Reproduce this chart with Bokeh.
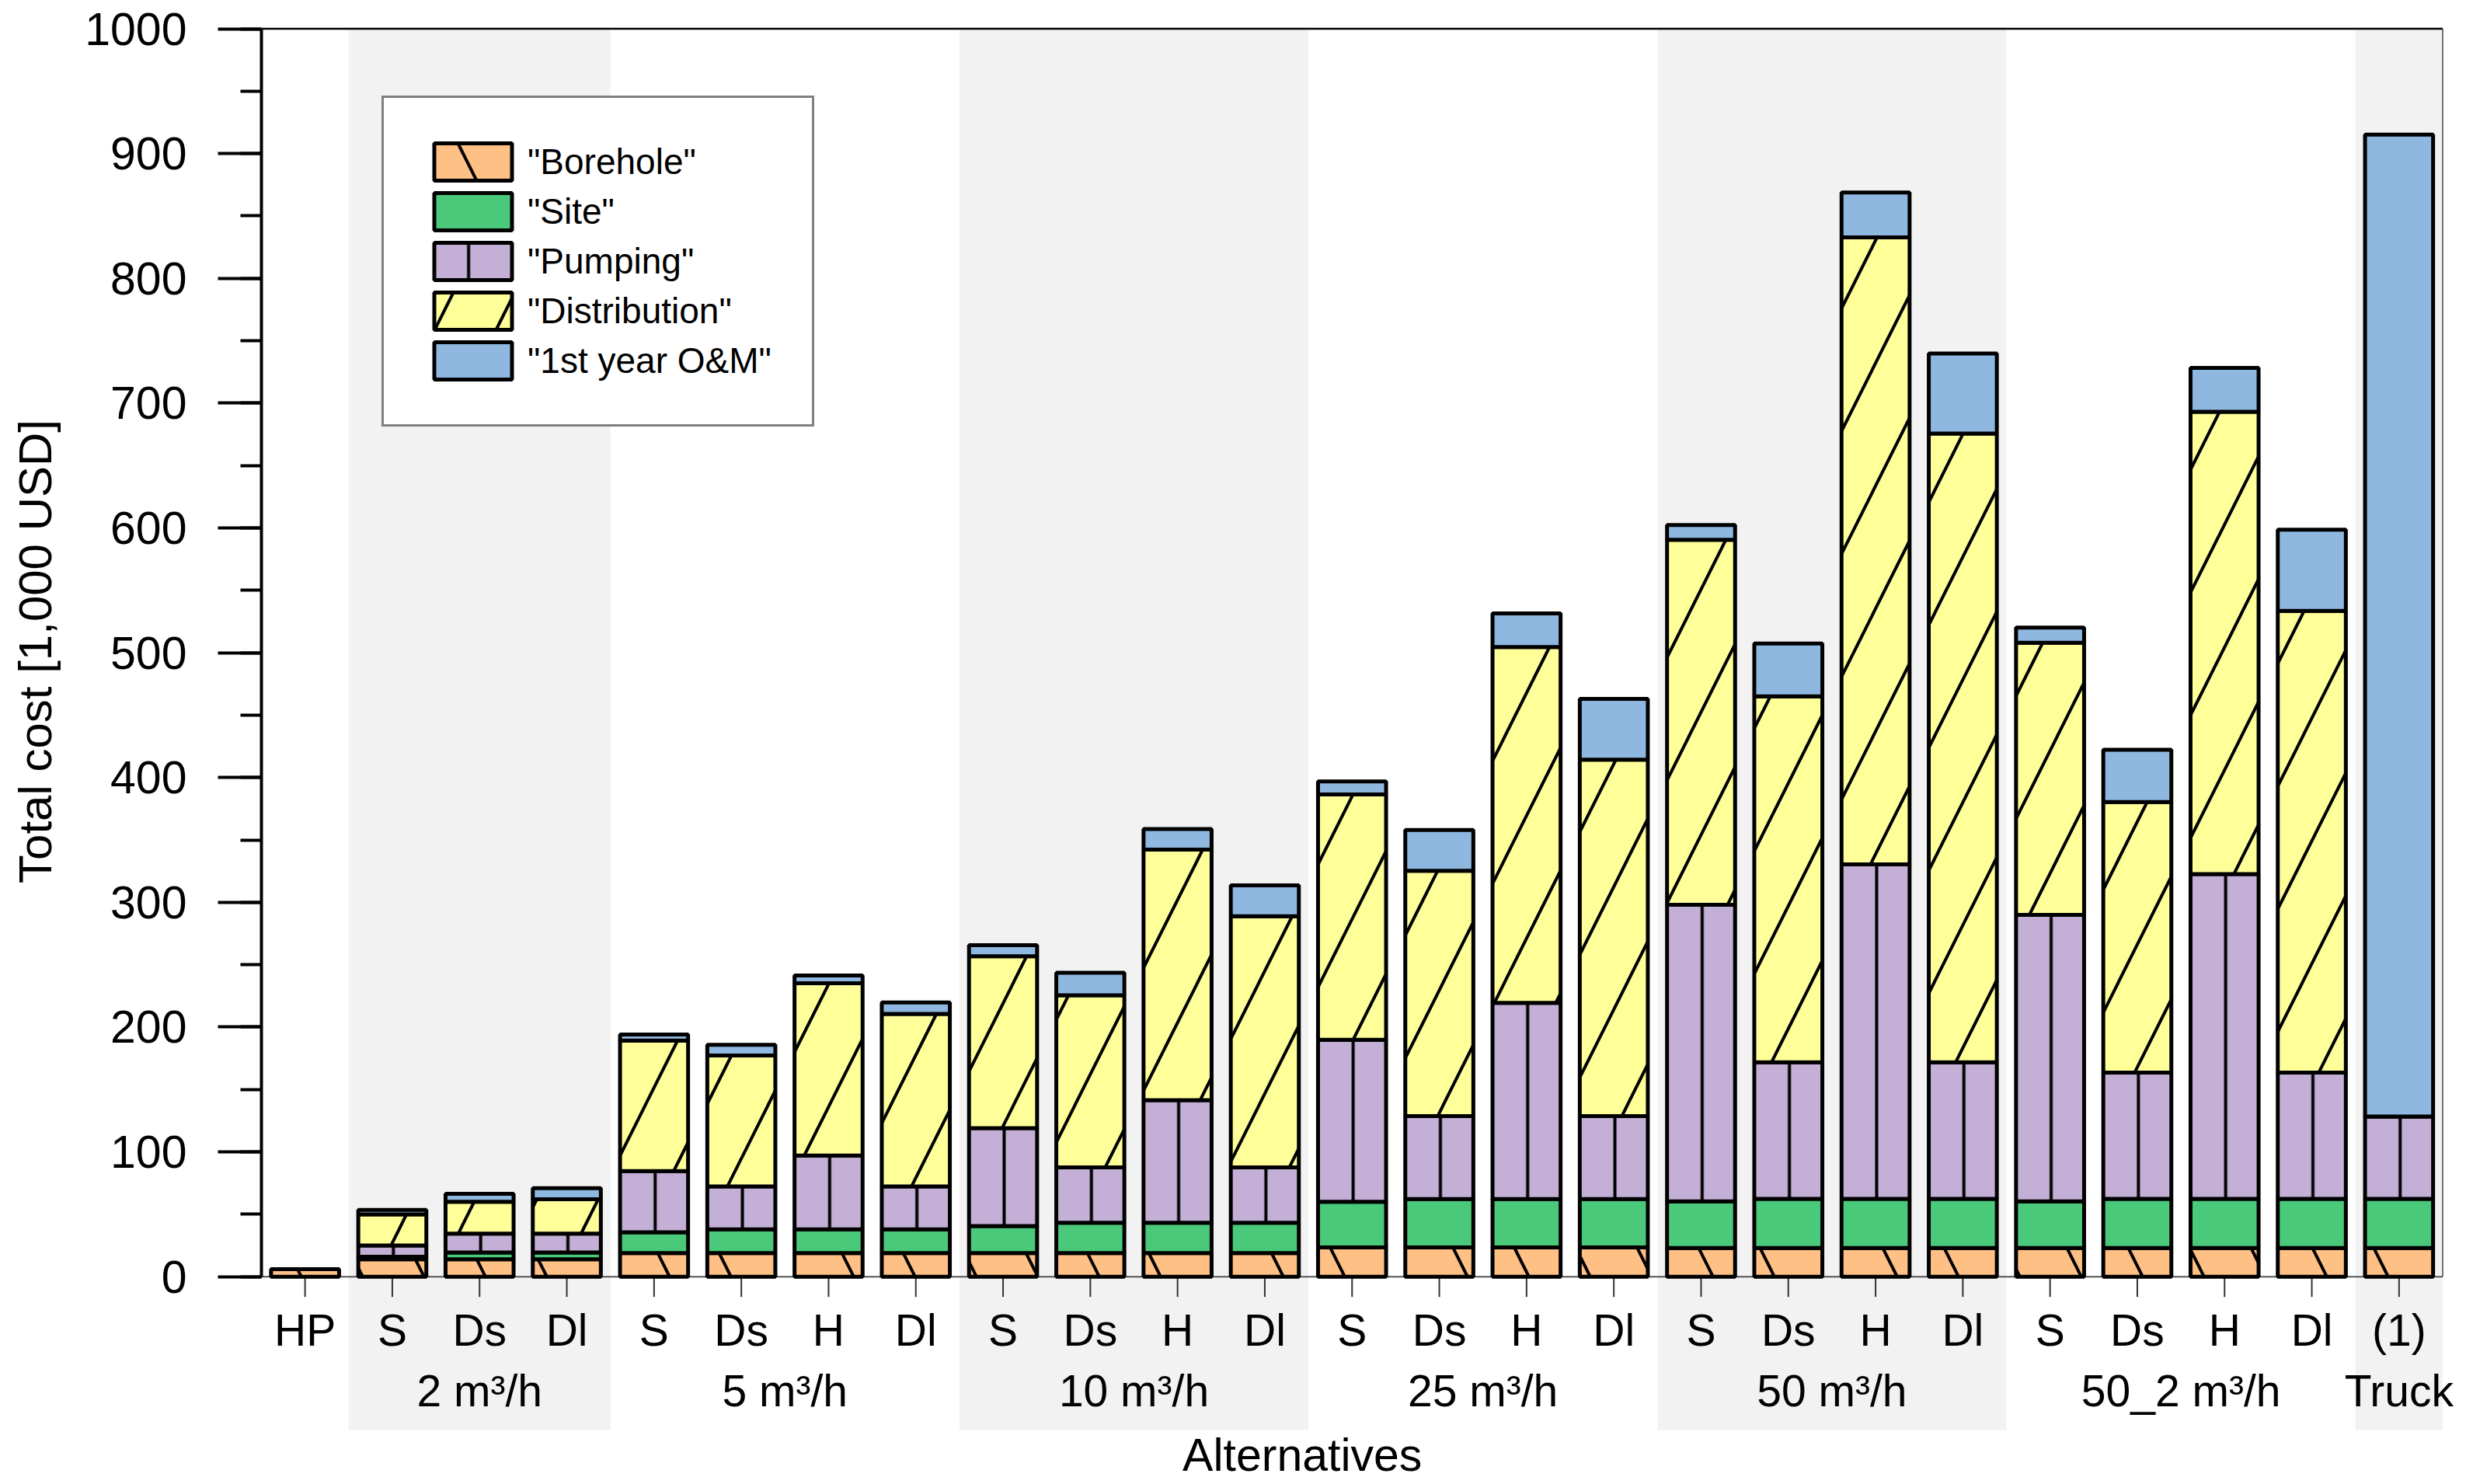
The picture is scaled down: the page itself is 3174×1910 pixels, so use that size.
from bokeh.plotting import figure
from bokeh.models import (Range1d, LinearAxis, SingleIntervalTicker, Legend,
                          LegendItem, ColumnDataSource)
from bokeh.core.properties import value
from bokeh.embed import file_html
from bokeh.resources import INLINE

# ---------------- data ----------------
categories = ["HP", "S", "Ds", "Dl", "S", "Ds", "H", "Dl", "S", "Ds", "H", "Dl",
              "S", "Ds", "H", "Dl", "S", "Ds", "H", "Dl", "S", "Ds", "H", "Dl", "(1)"]
groups = ["", "2 m³/h", "2 m³/h", "2 m³/h",
          "5 m³/h", "5 m³/h", "5 m³/h", "5 m³/h",
          "10 m³/h", "10 m³/h", "10 m³/h", "10 m³/h",
          "25 m³/h", "25 m³/h", "25 m³/h", "25 m³/h",
          "50 m³/h", "50 m³/h", "50 m³/h", "50 m³/h",
          "50_2 m³/h", "50_2 m³/h", "50_2 m³/h", "50_2 m³/h", "Truck"]
borehole = [6, 14, 14, 14, 19, 19, 19, 19, 19, 19, 19, 19,
            23.5, 23.5, 23.5, 23.5, 23, 23, 23, 23, 23, 23, 23, 23, 23]
site = [0, 2, 5.4, 5.4, 16.6, 19, 19, 19, 21.6, 24.2, 24.2, 24.2,
        36.5, 38.7, 38.7, 38.7, 37.4, 39.4, 39.4, 39.4, 37.4, 39.4, 39.4, 39.4, 39.4]
pumping = [0, 9, 15.2, 15.2, 49.1, 34.4, 59.1, 34.4, 78.4, 44.4, 98.2, 44.4,
           129.8, 66.5, 157.2, 66.5, 237.6, 109.4, 268, 109.4, 229.6, 101.1, 260.2, 101.1, 65.9]
distribution = [0, 25, 25.4, 27.4, 104.5, 104.9, 138, 138.2, 137.8, 137.9, 200.8, 201.2,
                196.7, 196.5, 285.2, 285.6, 292.5, 293.2, 502.5, 503.9, 218, 216.8, 370.5, 370.1, 0]
om = [0, 3.5, 6.4, 9, 4.8, 8.5, 6.2, 9.2, 8.8, 18, 16.6, 24.8,
      10.4, 32.8, 26.9, 48.7, 11.9, 42.3, 35.9, 64.1, 12.1, 42, 35.2, 65, 786.9]
series_labels = ['"Borehole"', '"Site"', '"Pumping"', '"Distribution"', '"1st year O&M"']
x_title = "Alternatives"
y_title = "Total cost [1,000 USD]"

# ---------------- layout ----------------
W, H = 3174, 1910
PX = 112.3            # px per category
KY = 1.6062           # px per y unit
LEFT, TOP = 336, 16
ZERO_Y = 1642.7       # page y of value 0
TXT_SHIFT = 24 / KY   # text glyph baseline correction
FONT = value("Liberation Sans")

x_end = -0.5 + (W - LEFT) / PX
y_end = (ZERO_Y - TOP) / KY
y_start = -(H - ZERO_Y) / KY

p = figure(width=W, height=H, output_backend="svg", toolbar_location=None,
           x_range=Range1d(-0.5, x_end), y_range=Range1d(y_start, y_end),
           x_axis_location=None, y_axis_location=None,
           min_border_left=LEFT, min_border_right=0, min_border_top=TOP,
           min_border_bottom=0)
p.outline_line_color = None
p.background_fill_color = "white"
p.border_fill_color = "white"
for g in p.grid:
    g.visible = False

n = len(categories)
idx = list(range(n))
band_bottom = -122.8

# shaded group bands (alternate groups, starting with the first named one)
names = []
for gname in groups:
    if gname and gname not in names:
        names.append(gname)
band_l, band_r = [], []
for k, gname in enumerate(names):
    if k % 2 == 0:
        members = [i for i in idx if groups[i] == gname]
        band_l.append(min(members) - 0.5)
        band_r.append(max(members) + 0.5)
p.quad(left=band_l, right=band_r, bottom=band_bottom, top=1000,
       fill_color="#F2F2F2", line_color=None)

# baseline, top line, right line
p.segment(x0=-0.5, y0=0, x1=n - 0.5, y1=0, line_color="#555555", line_width=2)
p.segment(x0=-0.5, y0=1000, x1=n - 0.5, y1=1000, line_color="black", line_width=2.5)
p.segment(x0=n - 0.5, y0=0, x1=n - 0.5, y1=1000, line_color="#444444", line_width=1.5)

# category ticks
p.segment(x0=idx, y0=[0] * n, x1=idx, y1=[-16.2] * n, line_color="#333333", line_width=2)

src = ColumnDataSource(dict(x=idx, b=borehole, s=site, pu=pumping, d=distribution, o=om))
colors = ["#FFC086", "#4AC97A", "#C4B0D6", "#FFFF99", "#8FB8E0"]
patterns = ["\\", " ", "|", "/", " "]
scales = [158, 12, PX, 158, 12]
rs = p.vbar_stack(["b", "s", "pu", "d", "o"], x="x", width=0.78, source=src,
                  fill_color=colors, line_color="black", line_width=5,
                  hatch_pattern=patterns, hatch_scale=scales,
                  hatch_color="black", hatch_weight=4)

# category labels
p.text(x=idx, y=[-57.5 + TXT_SHIFT] * n, text=categories, text_font=FONT, text_font_size="57px",
       text_align="center", text_baseline="alphabetic", text_color="black")
# group labels
gx = []
for gname in names:
    members = [i for i in idx if groups[i] == gname]
    gx.append(sum(members) / len(members))
p.text(x=gx, y=[-106.6 + TXT_SHIFT] * len(names), text=names, text_font=FONT,
       text_font_size="57px", text_align="center", text_baseline="alphabetic",
       text_color="black")
# x title
p.text(x=[11.43], y=[-158.3 + TXT_SHIFT], text=[x_title], text_font=FONT,
       text_font_size="59px", text_align="center", text_baseline="alphabetic",
       text_color="black")

# y axis; the title is padded with no-break spaces so that it is centred on
# the 0..1000 span rather than on the whole (taller) frame
yax = LinearAxis(ticker=SingleIntervalTicker(interval=100, num_minor_ticks=2),
                 bounds=(0, 1000), axis_label="\u00a0" * 15 + y_title)
yax.axis_line_width = 4
yax.axis_line_color = "black"
yax.major_tick_line_width = 4
yax.minor_tick_line_width = 4
yax.major_tick_out = 56
yax.major_tick_in = 0
yax.minor_tick_out = 27
yax.minor_tick_in = 0
yax.major_label_standoff = 40
yax.major_label_text_font = "Liberation Sans"
yax.major_label_text_font_size = "59px"
yax.major_label_text_color = "black"
yax.axis_label_text_font = "Liberation Sans"
yax.axis_label_text_font_size = "60px"
yax.axis_label_text_font_style = "normal"
yax.axis_label_text_color = "black"
yax.axis_label_standoff = 27
p.add_layout(yax, "left")

legend = Legend(items=[LegendItem(label=lab, renderers=[r]) for lab, r in zip(series_labels, rs)],
                location=(155, H - 549), margin=0, padding=52, spacing=4,
                glyph_width=125, glyph_height=60, label_height=60, label_standoff=8,
                label_text_font="Liberation Sans", label_text_font_size="46px",
                label_text_color="black",
                border_line_color="black", border_line_width=3,
                background_fill_color="white", background_fill_alpha=1.0)
p.add_layout(legend)

open("out.html", "w").write(file_html(p, INLINE))
